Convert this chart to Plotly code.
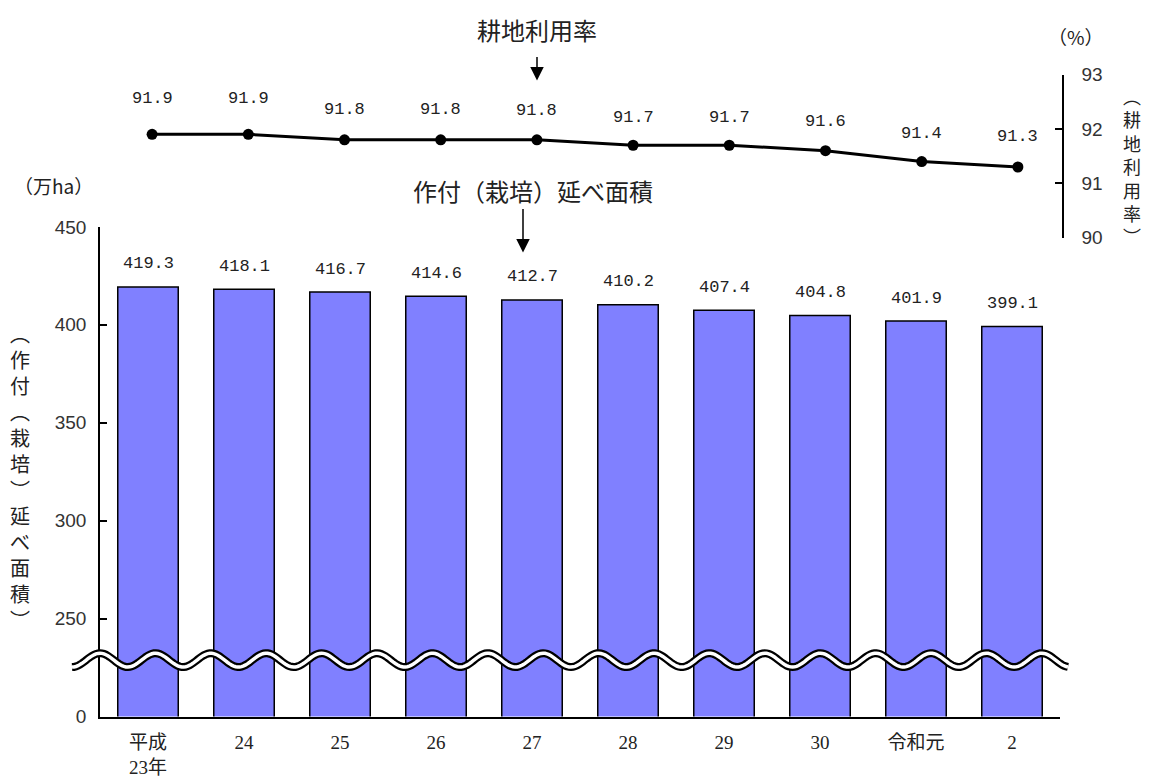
import numpy as np
import plotly.graph_objects as go

# ---- data ----
categories = ["平成<br>23年", "24", "25", "26", "27", "28", "29", "30", "令和元", "2"]
area_values = [419.3, 418.1, 416.7, 414.6, 412.7, 410.2, 407.4, 404.8, 401.9, 399.1]
rate_values = [91.9, 91.9, 91.8, 91.8, 91.8, 91.7, 91.7, 91.6, 91.4, 91.3]
left_tick_vals = [200, 250, 300, 350, 400, 450]
left_tick_text = ["0", "250", "300", "350", "400", "450"]
right_tick_vals = [90, 91, 92, 93]
left_title = "︵作付︵栽培︶延べ面積︶"
right_title = "︵耕地利用率︶"

# ---- layout helpers (target pixel -> paper), page has an 8px body margin ----
W, H = 1149, 782
ML, MR, MT, MB = 60, 60, 20, 20
PW, PH = W - ML - MR, H - MT - MB
OFF = 8


def px(x):
    return (x - OFF - ML) / PW


def py(y):
    return (H - MB - (y - OFF)) / PH


CJK = "Noto Sans CJK JP"
NUMFONT = "Liberation Mono"
TICKFONT = "Liberation Sans"
CATFONT = "Liberation Serif, Noto Sans CJK JP"
TXT = "#222"

fig = go.Figure()

fig.add_trace(go.Bar(
    x=categories, y=area_values, xaxis="x", yaxis="y",
    marker=dict(color="#8080FF", line=dict(color="black", width=1.5)),
    width=0.63, showlegend=False, hoverinfo="skip",
))

fig.add_trace(go.Scatter(
    x=categories, y=rate_values, xaxis="x2", yaxis="y2",
    mode="lines+markers",
    line=dict(color="black", width=3),
    marker=dict(color="black", size=11),
    showlegend=False, hoverinfo="skip", cliponaxis=False,
))

annotations = []
# bar value labels
for i, v in enumerate(area_values):
    annotations.append(dict(x=i, y=v, xref="x", yref="y", text=f"{v:.1f}",
                            showarrow=False, xanchor="center", yanchor="middle", yshift=23,
                            font=dict(family=NUMFONT, size=17, color=TXT)))
# line value labels
label_shift = [36, 36, 30, 30, 29, 28, 28, 29, 28, 31]
for i, (v, s) in enumerate(zip(rate_values, label_shift)):
    annotations.append(dict(x=i, y=v, xref="x2", yref="y2", text=f"{v:.1f}",
                            showarrow=False, xanchor="center", yanchor="middle", yshift=s,
                            font=dict(family=NUMFONT, size=17, color=TXT)))


def label(x, y, text, size):
    return dict(x=px(x), y=py(y), xref="paper", yref="paper", text=text,
                showarrow=False, xanchor="center", yanchor="middle",
                font=dict(family=CJK, size=size, color=TXT))


def arrow(x, y_tip, length):
    return dict(x=px(x), y=py(y_tip), xref="paper", yref="paper", text="",
                ax=0, ay=-length, axref="pixel", ayref="pixel",
                showarrow=True, arrowhead=2, arrowsize=1.8, arrowwidth=1.5,
                arrowcolor="black")


annotations += [
    label(537, 27, "耕地利用率", 24),
    arrow(537, 79, 25),
    label(533, 190, "作付（栽培）延べ面積", 24),
    arrow(523, 253, 45),
    label(53, 185, "（万ha）", 19),
    label(1076, 35, "（%）", 19),
    label(20, 479, "<br>".join(left_title), 20),
    label(1132, 165, "<br>".join(right_title), 18),
]

# axis break wave (decoration)
wx = np.linspace(72, 1068, 500)
wy = 665 - 7 * np.cos(2 * np.pi * (wx - 100) / 55.4)
wave_path = "M " + " L ".join(f"{px(a):.5f},{py(b):.5f}" for a, b in zip(wx, wy))
shapes = [
    dict(type="path", path=wave_path, xref="paper", yref="paper",
         line=dict(color="black", width=8), layer="above"),
    dict(type="path", path=wave_path, xref="paper", yref="paper",
         line=dict(color="white", width=3.5), layer="above"),
]

fig.update_layout(
    width=W, height=H,
    margin=dict(l=ML, r=MR, t=MT, b=MB),
    paper_bgcolor="white", plot_bgcolor="rgba(0,0,0,0)",
    xaxis=dict(domain=[px(100), px(1060)], anchor="y", type="category",
               range=[-0.5, 9.5], showline=True, linecolor="black", linewidth=1.5,
               ticks="", showgrid=False, zeroline=False, ticklabelstandoff=8,
               tickfont=dict(family=CATFONT, size=19, color=TXT)),
    xaxis2=dict(domain=[px(104), px(1066)], anchor="y2", type="category",
                range=[-0.5, 9.5], visible=False),
    yaxis=dict(domain=[py(722), py(227)], anchor="x", range=[200, 450],
               tickvals=left_tick_vals, ticktext=left_tick_text,
               ticks="inside", ticklen=7, tickwidth=1.5, tickcolor="black",
               showline=True, linecolor="black", linewidth=1.5, ticklabelstandoff=8,
               showgrid=False, zeroline=False,
               tickfont=dict(family=TICKFONT, size=19, color="#333")),
    yaxis2=dict(domain=[py(238), py(73)], anchor="free", position=px(1063),
                side="right", range=[90, 93], tickvals=right_tick_vals,
                ticks="inside", ticklen=7, tickwidth=1.5, tickcolor="black",
                showline=True, linecolor="black", linewidth=1.5, ticklabelstandoff=14,
                showgrid=False, zeroline=False,
                tickfont=dict(family=TICKFONT, size=19, color="#333")),
    annotations=annotations,
    shapes=shapes,
)

fig.write_html("out.html")
